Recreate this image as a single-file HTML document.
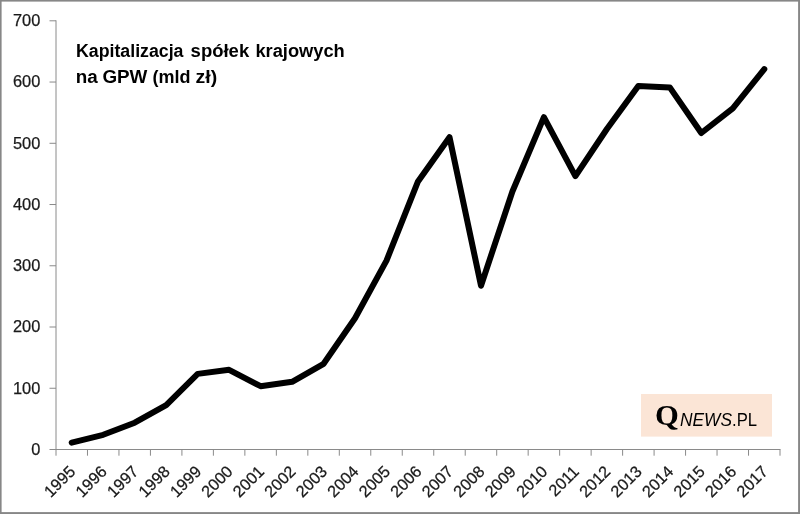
<!DOCTYPE html>
<html lang="pl"><head><meta charset="utf-8"><title>Kapitalizacja spółek krajowych na GPW</title>
<style>
html,body{margin:0;padding:0;background:#fff;}
body{width:800px;height:514px;overflow:hidden;}
svg{display:block;}
text{font-family:"Liberation Sans",sans-serif;fill:#1a1a1a;}
.yl{font-size:16.4px;text-anchor:end;stroke:#1a1a1a;stroke-width:0.25px;}
.xl{font-size:16.3px;text-anchor:end;stroke:#1a1a1a;stroke-width:0.25px;}
.ttl{font-size:17.6px;font-weight:bold;fill:#000;}
</style></head><body>
<svg width="800" height="514" viewBox="0 0 800 514">
<rect x="0" y="0" width="800" height="514" fill="#ffffff"/>
<rect x="0" y="0" width="800" height="1.6" fill="#878787"/>
<rect x="0" y="0" width="1.6" height="514" fill="#878787"/>
<rect x="798.1" y="0" width="1.9" height="514" fill="#878787"/>
<rect x="0" y="512.1" width="800" height="1.9" fill="#878787"/>

<g stroke="#8a8a8a" stroke-width="1" fill="none">
<line x1="56.0" y1="20.3" x2="56.0" y2="455.7"/>
<line x1="49.5" y1="449.5" x2="780.5" y2="449.5"/>
<line x1="49.5" y1="388.26" x2="56.0" y2="388.26"/>
<line x1="49.5" y1="327.01" x2="56.0" y2="327.01"/>
<line x1="49.5" y1="265.77" x2="56.0" y2="265.77"/>
<line x1="49.5" y1="204.53" x2="56.0" y2="204.53"/>
<line x1="49.5" y1="143.29" x2="56.0" y2="143.29"/>
<line x1="49.5" y1="82.04" x2="56.0" y2="82.04"/>
<line x1="49.5" y1="20.80" x2="56.0" y2="20.80"/>
<line x1="87.48" y1="449.5" x2="87.48" y2="455.7"/>
<line x1="118.96" y1="449.5" x2="118.96" y2="455.7"/>
<line x1="150.43" y1="449.5" x2="150.43" y2="455.7"/>
<line x1="181.91" y1="449.5" x2="181.91" y2="455.7"/>
<line x1="213.39" y1="449.5" x2="213.39" y2="455.7"/>
<line x1="244.87" y1="449.5" x2="244.87" y2="455.7"/>
<line x1="276.35" y1="449.5" x2="276.35" y2="455.7"/>
<line x1="307.83" y1="449.5" x2="307.83" y2="455.7"/>
<line x1="339.30" y1="449.5" x2="339.30" y2="455.7"/>
<line x1="370.78" y1="449.5" x2="370.78" y2="455.7"/>
<line x1="402.26" y1="449.5" x2="402.26" y2="455.7"/>
<line x1="433.74" y1="449.5" x2="433.74" y2="455.7"/>
<line x1="465.22" y1="449.5" x2="465.22" y2="455.7"/>
<line x1="496.70" y1="449.5" x2="496.70" y2="455.7"/>
<line x1="528.17" y1="449.5" x2="528.17" y2="455.7"/>
<line x1="559.65" y1="449.5" x2="559.65" y2="455.7"/>
<line x1="591.13" y1="449.5" x2="591.13" y2="455.7"/>
<line x1="622.61" y1="449.5" x2="622.61" y2="455.7"/>
<line x1="654.09" y1="449.5" x2="654.09" y2="455.7"/>
<line x1="685.57" y1="449.5" x2="685.57" y2="455.7"/>
<line x1="717.04" y1="449.5" x2="717.04" y2="455.7"/>
<line x1="748.52" y1="449.5" x2="748.52" y2="455.7"/>
<line x1="780.00" y1="449.5" x2="780.00" y2="455.7"/>
</g>
<text class="yl" x="40.3" y="454.9">0</text>
<text class="yl" x="40.3" y="393.7">100</text>
<text class="yl" x="40.3" y="332.4">200</text>
<text class="yl" x="40.3" y="271.2">300</text>
<text class="yl" x="40.3" y="209.9">400</text>
<text class="yl" x="40.3" y="148.7">500</text>
<text class="yl" x="40.3" y="87.4">600</text>
<text class="yl" x="40.3" y="26.2">700</text>
<text class="xl" transform="translate(68.0,464.2) rotate(-45)" x="0" y="0" dy="0.72em">1995</text>
<text class="xl" transform="translate(99.5,464.2) rotate(-45)" x="0" y="0" dy="0.72em">1996</text>
<text class="xl" transform="translate(131.0,464.2) rotate(-45)" x="0" y="0" dy="0.72em">1997</text>
<text class="xl" transform="translate(162.5,464.2) rotate(-45)" x="0" y="0" dy="0.72em">1998</text>
<text class="xl" transform="translate(194.0,464.2) rotate(-45)" x="0" y="0" dy="0.72em">1999</text>
<text class="xl" transform="translate(225.4,464.2) rotate(-45)" x="0" y="0" dy="0.72em">2000</text>
<text class="xl" transform="translate(256.9,464.2) rotate(-45)" x="0" y="0" dy="0.72em">2001</text>
<text class="xl" transform="translate(288.4,464.2) rotate(-45)" x="0" y="0" dy="0.72em">2002</text>
<text class="xl" transform="translate(319.9,464.2) rotate(-45)" x="0" y="0" dy="0.72em">2003</text>
<text class="xl" transform="translate(351.3,464.2) rotate(-45)" x="0" y="0" dy="0.72em">2004</text>
<text class="xl" transform="translate(382.8,464.2) rotate(-45)" x="0" y="0" dy="0.72em">2005</text>
<text class="xl" transform="translate(414.3,464.2) rotate(-45)" x="0" y="0" dy="0.72em">2006</text>
<text class="xl" transform="translate(445.8,464.2) rotate(-45)" x="0" y="0" dy="0.72em">2007</text>
<text class="xl" transform="translate(477.3,464.2) rotate(-45)" x="0" y="0" dy="0.72em">2008</text>
<text class="xl" transform="translate(508.7,464.2) rotate(-45)" x="0" y="0" dy="0.72em">2009</text>
<text class="xl" transform="translate(540.2,464.2) rotate(-45)" x="0" y="0" dy="0.72em">2010</text>
<text class="xl" transform="translate(571.7,464.2) rotate(-45)" x="0" y="0" dy="0.72em">2011</text>
<text class="xl" transform="translate(603.2,464.2) rotate(-45)" x="0" y="0" dy="0.72em">2012</text>
<text class="xl" transform="translate(634.6,464.2) rotate(-45)" x="0" y="0" dy="0.72em">2013</text>
<text class="xl" transform="translate(666.1,464.2) rotate(-45)" x="0" y="0" dy="0.72em">2014</text>
<text class="xl" transform="translate(697.6,464.2) rotate(-45)" x="0" y="0" dy="0.72em">2015</text>
<text class="xl" transform="translate(729.1,464.2) rotate(-45)" x="0" y="0" dy="0.72em">2016</text>
<text class="xl" transform="translate(760.6,464.2) rotate(-45)" x="0" y="0" dy="0.72em">2017</text>
<text class="ttl" y="56.7"><tspan x="76" textLength="107.5" lengthAdjust="spacingAndGlyphs">Kapitalizacja</tspan> <tspan x="190.6" textLength="58.6" lengthAdjust="spacingAndGlyphs">spółek</tspan> <tspan x="255.4" textLength="89.4" lengthAdjust="spacingAndGlyphs">krajowych</tspan></text>
<text class="ttl" y="83.1"><tspan x="75.8" textLength="22" lengthAdjust="spacingAndGlyphs">na</tspan> <tspan x="102.4" textLength="45" lengthAdjust="spacingAndGlyphs">GPW</tspan> <tspan x="152.4" textLength="38" lengthAdjust="spacingAndGlyphs">(mld</tspan> <tspan x="195.6" textLength="21.6" lengthAdjust="spacingAndGlyphs">zł)</tspan></text>
<rect x="641" y="394" width="131" height="42.6" fill="#fbe5d6"/>
<text x="655" y="425" style="font-family:'Liberation Serif',serif;font-weight:bold;font-size:29.8px;fill:#000" textLength="23.8" lengthAdjust="spacingAndGlyphs">Q</text>
<text x="680" y="425.6" style="font-style:italic;font-size:18.8px;fill:#000" textLength="52" lengthAdjust="spacingAndGlyphs">NEWS</text>
<text x="732" y="425.6" style="font-size:18.8px;fill:#000" textLength="25" lengthAdjust="spacingAndGlyphs">.PL</text>
<polyline points="71.7,442.6 103.2,434.8 134.7,422.7 166.2,405.2 197.7,373.9 229.1,369.8 260.6,386.2 292.1,381.8 323.6,363.8 355.0,318.3 386.5,260.6 418.0,181.4 449.5,137.2 481.0,285.7 512.4,191.5 543.9,117.2 575.4,176.2 606.9,129.0 638.3,86.0 669.8,87.4 701.3,133.0 732.8,108.3 764.3,69.2" fill="none" stroke="#000" stroke-width="6" stroke-linecap="round" stroke-linejoin="round"/>
</svg></body></html>
